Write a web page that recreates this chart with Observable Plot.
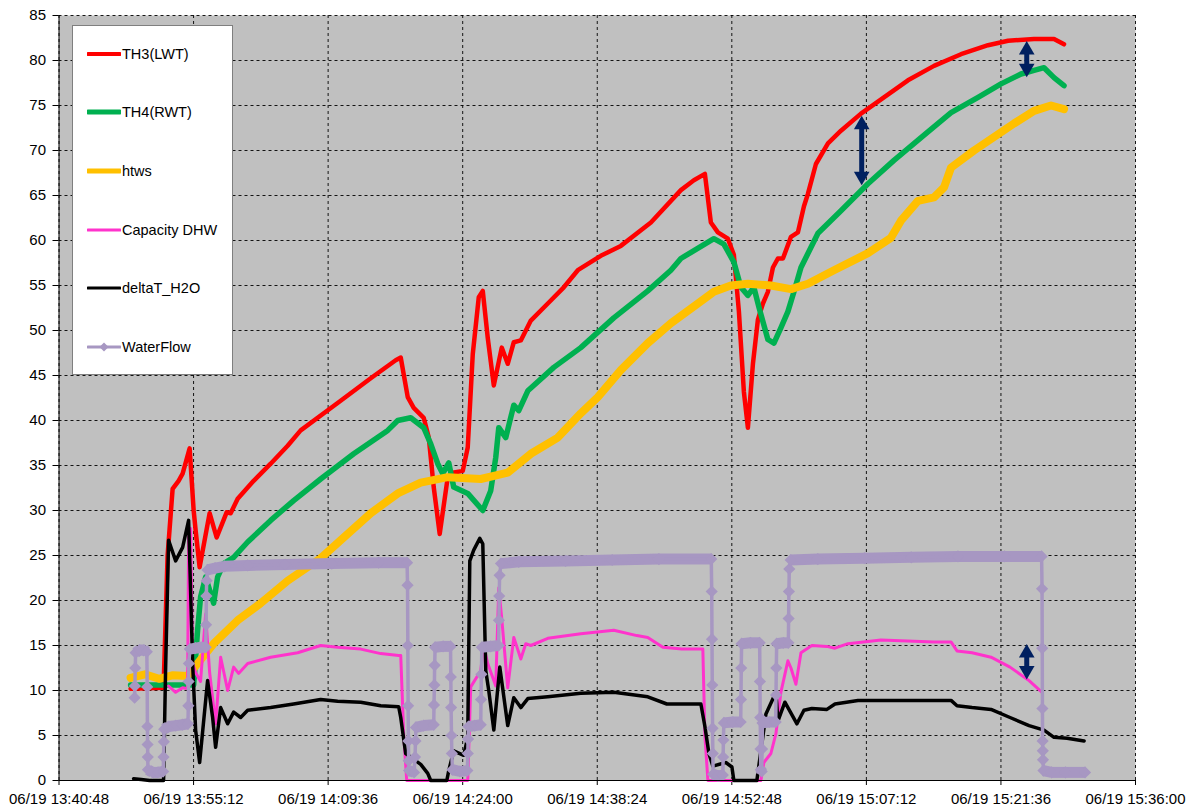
<!DOCTYPE html>
<html>
<head>
<meta charset="utf-8">
<script src="https://cdn.jsdelivr.net/npm/d3@7"></script>
<script src="https://cdn.jsdelivr.net/npm/@observablehq/plot@0.6"></script>
<style>
html,body{margin:0;padding:0;background:#fff;overflow:hidden}
#wrap{position:relative;width:1187px;height:808px;font-family:"Liberation Sans",Arial,sans-serif}
#legend{position:absolute;left:72px;top:25px;width:161px;height:350px;background:#fff;border:1px solid #7f7f7f;box-sizing:border-box}
.item{position:absolute;left:0;height:20px;display:flex;align-items:center;font-size:14.5px;color:#000;white-space:nowrap}
.item svg{margin-left:14px;margin-right:1px}
</style>
</head>
<body>
<div id="wrap"><div id="legend"></div></div>
<script>
// time = minutes after 13:00 on 06/19
const xTicks = [40.8, 55.2, 69.6, 84, 98.4, 112.8, 127.2, 141.6, 156];
const xTickLabels = ["06/19 13:40:48","06/19 13:55:12","06/19 14:09:36","06/19 14:24:00","06/19 14:38:24","06/19 14:52:48","06/19 15:07:12","06/19 15:21:36","06/19 15:36:00"];
const yTicks = [0,5,10,15,20,25,30,35,40,45,50,55,60,65,70,75,80,85];

const seriesNames = ["TH3(LWT)","TH4(RWT)","htws","Capacity DHW","deltaT_H2O","WaterFlow"];

const th3 = [[48.46,10.2],[51.99,10.3],[52.42,25],[52.96,32.4],[53.6,33.3],[54.03,34.1],[54.78,36.9],[55.21,30],[55.42,27.8],[55.85,23.7],[56.92,29.7],[57.67,27],[58.74,29.8],[59.17,29.7],[59.92,31.3],[61.63,33.3],[63.45,35.2],[65.27,37.2],[66.66,38.9],[70.94,42.2],[74.16,44.7],[76.83,46.7],[77.37,47],[78.12,42.6],[78.76,41.4],[79.83,40.3],[80.37,38.1],[80.9,32.6],[81.54,27.4],[82.4,33.7],[82.94,34.2],[84.01,34.4],[84.54,37],[85.08,47.4],[85.72,53.7],[86.15,54.4],[86.68,49.2],[87.33,43.9],[88.18,48.1],[88.82,46.3],[89.47,48.7],[90.22,48.9],[91.29,51.1],[93.11,53],[94.82,54.8],[96.32,56.7],[98.78,58.3],[100.92,59.4],[104.14,62],[107.35,65.6],[108.74,66.7],[109.92,67.4],[110.56,62],[111.31,60.9],[112.38,60.2],[113.02,58.4],[113.56,52.1],[114.09,43.2],[114.52,39.2],[115.06,46.3],[115.59,51.2],[116.13,53],[116.66,54.3],[117.2,57],[117.73,58],[118.27,58],[119.13,60.4],[119.87,60.9],[120.52,63.8],[120.95,65.2],[121.8,68.5],[123.09,70.8],[124.48,72.2],[126.62,74.1],[129.08,75.9],[131.65,77.8],[134.44,79.4],[137.33,80.7],[140.22,81.7],[142.36,82.2],[145.14,82.4],[147.28,82.4],[148.35,81.8]];

const th4 = [[48.46,10.6],[55.21,10.6],[55.63,16.7],[55.95,20.4],[56.49,22.6],[57.35,19.7],[57.77,22.6],[58.42,24.1],[59.49,24.8],[60.99,26.5],[63.45,28.9],[65.91,31.1],[68.8,33.5],[72.34,36.3],[75.98,38.9],[77.05,40],[78.44,40.3],[79.83,39.2],[80.58,37.4],[81.33,35.2],[81.86,34.1],[82.51,35.3],[83.04,32.6],[84.54,31.9],[86.15,30],[87.0,32.2],[87.54,35.9],[87.86,39.2],[88.61,38.1],[89.47,41.7],[90.0,41.1],[90.97,43.3],[93.75,45.9],[96.64,48.1],[100.17,51.4],[103.81,54.4],[106.28,56.7],[107.35,58],[110.88,60.2],[111.95,59.6],[113.02,57.6],[113.77,54.8],[114.52,53.9],[115.16,54.8],[115.7,52.6],[116.66,49],[117.31,48.6],[118.05,50.3],[118.8,52.1],[119.45,54.3],[120.2,57],[122.02,60.8],[124.48,63.3],[127.37,66.3],[130.15,68.9],[133.37,71.7],[136.26,74.2],[139.15,75.9],[141.61,77.4],[143.75,78.5],[145.14,78.9],[146.21,79.2],[147.28,78.1],[148.35,77.2]];

const htws = [[48.46,11.4],[50.0,11.8],[51.5,11.3],[53.0,11.7],[54.56,11.6],[55.63,13],[57.35,15.2],[59.92,17.8],[62.38,19.7],[65.27,22.2],[68.8,24.7],[70.94,26.7],[74.16,29.7],[77.05,31.9],[79.51,33.1],[82.4,33.7],[85.93,33.5],[88.82,34.2],[91.29,36.3],[94.18,38.1],[96.64,40.8],[98.46,42.6],[100.92,45.6],[103.81,48.6],[106.28,50.8],[109.17,53],[110.88,54.3],[112.7,55],[114.52,55.2],[116.98,55],[119.13,54.6],[120.95,55.2],[123.73,56.7],[127.37,58.6],[129.83,60.3],[130.9,62.2],[132.72,64.4],[134.44,64.8],[135.51,65.9],[136.26,68.1],[138.72,70],[140.86,71.5],[143.0,73],[145.14,74.4],[146.96,75],[148.35,74.6]];

const capacityDHW = [[52.53,10.5],[53.28,9.8],[54.03,10.3],[54.56,10.2],[54.67,27],[54.88,28],[55.1,13],[55.42,12],[55.95,11],[56.49,18.5],[56.92,12],[57.56,6.3],[58.1,13.7],[58.85,10],[59.49,12.6],[60.02,11.9],[60.99,13],[63.45,13.7],[66.34,14.2],[68.8,15],[70.62,14.8],[73.09,14.6],[75.23,14.1],[77.15,13.9],[77.37,13.9],[77.69,5],[78.01,0],[81.65,0],[84.54,0],[84.86,10.4],[85.93,12.2],[86.25,15],[86.68,13],[87.54,10.5],[87.86,21.4],[88.18,18],[88.82,10.3],[89.47,15.9],[90.22,13.5],[90.75,15.2],[91.29,15],[93.11,15.8],[96.64,16.3],[100.17,16.7],[102.64,16.1],[103.81,15.9],[105.42,14.8],[107.45,14.6],[109.7,14.6],[109.92,5],[110.24,0],[115.91,0],[116.23,2],[116.98,3],[117.52,5.2],[118.05,9.8],[118.8,13.3],[119.13,12.5],[119.66,10.7],[120.2,14.2],[121.37,15],[122.98,14.9],[123.84,14.7],[125.23,15.2],[128.76,15.6],[134.44,15.4],[136.26,15.4],[136.9,14.4],[138.51,14.2],[140.54,13.7],[142.57,12.6],[144.61,11.1],[146.0,9.8]];

const deltaT = [[48.78,0.2],[49.6,0.1],[50.5,0],[51.99,0],[52.2,12],[52.53,26.7],[53.28,24.4],[54.03,25.9],[54.67,28.9],[55.1,13],[55.42,5.6],[55.85,2],[56.7,11.1],[57.24,7],[57.56,3.7],[58.1,8.1],[58.85,6.3],[59.49,7.6],[60.24,7],[60.99,7.8],[63.45,8.1],[65.91,8.5],[68.8,9],[70.62,8.8],[73.09,8.7],[75.23,8.3],[77.15,8.2],[77.37,7],[77.9,3],[78.44,2.6],[79.51,1.8],[80.26,0.8],[80.58,0],[82.3,0],[82.51,1.1],[83.04,3.3],[84.11,2.8],[84.54,4.8],[84.76,24.4],[85.18,25.6],[85.83,26.9],[86.15,26.3],[86.47,12.2],[86.79,10],[87.33,5.6],[87.97,12.6],[88.82,6.1],[89.47,9.2],[90.22,8.1],[90.97,9.1],[93.11,9.3],[96.64,9.7],[100.17,9.8],[103.81,9.3],[105.85,8.5],[109.49,8.5],[109.92,6],[110.35,3],[110.77,1.6],[112.16,2],[112.81,1.5],[113.02,0],[115.48,0],[116.45,7.4],[117.52,9.8],[117.73,6.6],[118.48,8.7],[119.77,6.3],[120.52,7.8],[121.37,8],[122.98,7.9],[123.84,8.5],[126.3,8.9],[130.37,8.9],[134.44,8.9],[136.26,8.9],[136.9,8.3],[138.51,8.1],[140.54,7.9],[142.57,7],[144.61,6.1],[146.21,5.6],[147.28,4.8],[148.68,4.7],[150.5,4.4]];

const waterFlow = [[48.89,9.2],[48.92,10.5],[48.96,12.5],[49.0,14.2],[49.4,14.5],[49.9,14.5],[50.2,14.3],[50.24,10.4],[50.26,6],[50.28,4],[50.3,2.6],[50.32,1.2],[50.8,0.9],[51.4,0.9],[51.95,1],[51.99,2.6],[52.02,4.3],[52.06,5.7],[52.5,6],[53.3,6.1],[54.0,6.2],[54.6,6.3],[54.64,8.3],[54.67,11],[54.7,13],[54.8,14.6],[55.4,14.7],[56.0,14.8],[56.5,14.8],[56.54,17.3],[56.57,20.5],[56.6,22.2],[56.7,23.4],[57.5,23.6],[58.5,23.8],[61,23.9],[65,24.0],[70,24.1],[75,24.2],[78.05,24.2],
[78.1,21.7],[78.13,15],[78.16,8.3],[78.19,4.4],[78.22,2.2],[78.26,1.1],[78.8,0.9],[78.9,2.6],[78.95,4.4],[79.0,5.9],[79.8,6.1],[80.9,6.2],[80.93,8.4],[80.97,10.6],[81.0,12.8],[81.05,14.8],[81.9,14.9],[82.7,14.9],[82.73,11.5],[82.76,8.1],[82.8,5],[82.84,3],[82.9,1.2],[83.7,1.0],[84.5,1.1],[84.55,3],[84.58,4.6],[84.62,6],[85.3,6.1],[85.93,6.2],[85.96,9],[86.0,11.8],[86.05,14.8],[87.0,14.9],[87.85,15.0],[87.88,17.8],[87.91,20.5],[87.95,22.8],[88.1,24.1],[90,24.3],[95,24.4],[100,24.5],[105,24.6],[110.6,24.6],
[110.65,21],[110.68,15.7],[110.71,10.6],[110.74,5.8],[110.77,3],[110.8,0.7],[111.3,0.5],[111.84,0.6],[111.87,2.6],[111.9,4.5],[111.95,6.4],[112.9,6.5],[113.75,6.5],[113.78,9],[113.81,12.5],[113.85,15.2],[114.8,15.3],[115.78,15.3],[115.81,11],[115.84,7],[115.87,3.5],[115.9,1.2],[116.0,1.0],[116.04,3.5],[116.08,6.4],[116.8,6.5],[117.5,6.5],[117.53,9.5],[117.56,12.5],[117.6,15.2],[118.3,15.3],[118.85,15.3],[118.88,18],[118.91,21],[118.95,23.5],[119.1,24.5],[122,24.6],[127,24.7],[132,24.8],[137,24.9],[142,24.9],[145.95,24.9],
[146.0,21.3],[146.02,14.7],[146.04,8],[146.06,4.4],[146.08,3.3],[146.1,2.3],[146.15,1.1],[147,0.9],[148.5,0.9],[150.6,0.9]];

// annotation arrows (time, upper tip, lower tip)
const arrowTimes = [126.7, 144.36, 144.36];
const arrowTop = [73.9, 82.2, 15.2];
const arrowBottom = [66.1, 78.1, 11.2];

const COLORS = ["#FF0000","#00B050","#FFC000","#FF33CC","#000000","#A797C2"];
const WIDTHS = [4.5, 5.5, 8, 3, 3.5, 3.5];
const LEGEND_W = [4, 5, 5, 3, 3, 3];
const NAVY = "#002060";
const allSeries = [th3, th4, htws, capacityDHW, deltaT, waterFlow];

const xLabelMap = new Map(xTicks.map((t, i) => [t, xTickLabels[i]]));

// thick band for flat stretches of WaterFlow (dense markers in the source)
const wfFlat = [];
for (let i = 0; i < waterFlow.length - 1; i++) {
  const a = waterFlow[i], b = waterFlow[i + 1];
  if (Math.abs(b[1] - a[1]) < 1) wfFlat.push({x1: a[0], y1: a[1], x2: b[0], y2: b[1]});
}
const arrows = arrowTimes.map((t, i) => ({t, top: arrowTop[i], bottom: arrowBottom[i]}));

const marks = [
  Plot.frame({fill: "#C0C0C0", stroke: "none"}),
  Plot.gridX(xTicks, {stroke: "#000", strokeOpacity: 0.9, strokeDasharray: "3,3", strokeWidth: 1}),
  Plot.gridY(yTicks, {stroke: "#000", strokeOpacity: 0.9, strokeDasharray: "3,3", strokeWidth: 1}),
  Plot.axisX(xTicks, {tickFormat: d => xLabelMap.get(d), tickSize: 5, tickPadding: 8, fontSize: 15, label: null}),
  Plot.axisY(yTicks, {tickSize: 6, tickPadding: 7, fontSize: 15, label: null}),
];
allSeries.forEach((s, i) => {
  if (i === 5) {
    marks.push(Plot.link(wfFlat, {x1: "x1", y1: "y1", x2: "x2", y2: "y2", stroke: COLORS[5], strokeWidth: 11, strokeLinecap: "butt"}));
  }
  marks.push(Plot.line(s, {x: d => d[0], y: d => d[1], stroke: COLORS[i], strokeWidth: WIDTHS[i], strokeLinejoin: "round", strokeLinecap: "round"}));
  if (i === 5) {
    marks.push(Plot.dot(s, {x: d => d[0], y: d => d[1], symbol: "diamond2", r: 5.5, fill: COLORS[5], stroke: "none"}));
  }
});
marks.push(
  Plot.ruleX([40.8], {stroke: "#000", strokeWidth: 1}),
  Plot.ruleY([0], {stroke: "#000", strokeWidth: 1}),
  Plot.ruleX(arrows, {x: "t", y1: "top", y2: "bottom", stroke: NAVY, strokeWidth: 5, insetTop: 10, insetBottom: 10}),
  Plot.dot(arrows, {x: "t", y: "top", symbol: "triangle", r: 5.8, fill: NAVY, stroke: "none", dy: 9.3}),
  Plot.dot(arrows, {x: "t", y: "bottom", symbol: "triangle", r: 5.8, fill: NAVY, stroke: "none", rotate: 180, dy: -9.3})
);

const chart = Plot.plot({
  width: 1187, height: 808,
  marginLeft: 58.5, marginRight: 52, marginTop: 15, marginBottom: 28,
  style: {fontFamily: '"Liberation Sans", Arial, sans-serif', background: "#fff", color: "#000", overflow: "visible"},
  x: {type: "linear", domain: [40.8, 156]},
  y: {type: "linear", domain: [0, 85]},
  marks
});
const wrap = document.getElementById("wrap");
wrap.insertBefore(chart, wrap.firstChild);
chart.style.position = "absolute"; chart.style.left = "0"; chart.style.top = "0";

// legend
const legend = document.getElementById("legend");
seriesNames.forEach((name, i) => {
  const it = document.createElement("div");
  it.className = "item";
  it.style.top = (17.7 + 58.6 * i) + "px";
  const w = LEGEND_W[i];
  let svg = `<svg width="34" height="14" viewBox="0 0 34 14"><line x1="1" y1="7" x2="33" y2="7" stroke="${COLORS[i]}" stroke-width="${w}" stroke-linecap="round"/>`;
  if (i === 5) svg += `<path d="M17,2.5L21.5,7L17,11.5L12.5,7Z" fill="${COLORS[i]}"/>`;
  svg += `</svg>`;
  it.innerHTML = svg + `<span>${name}</span>`;
  legend.appendChild(it);
});
</script>
</body>
</html>
